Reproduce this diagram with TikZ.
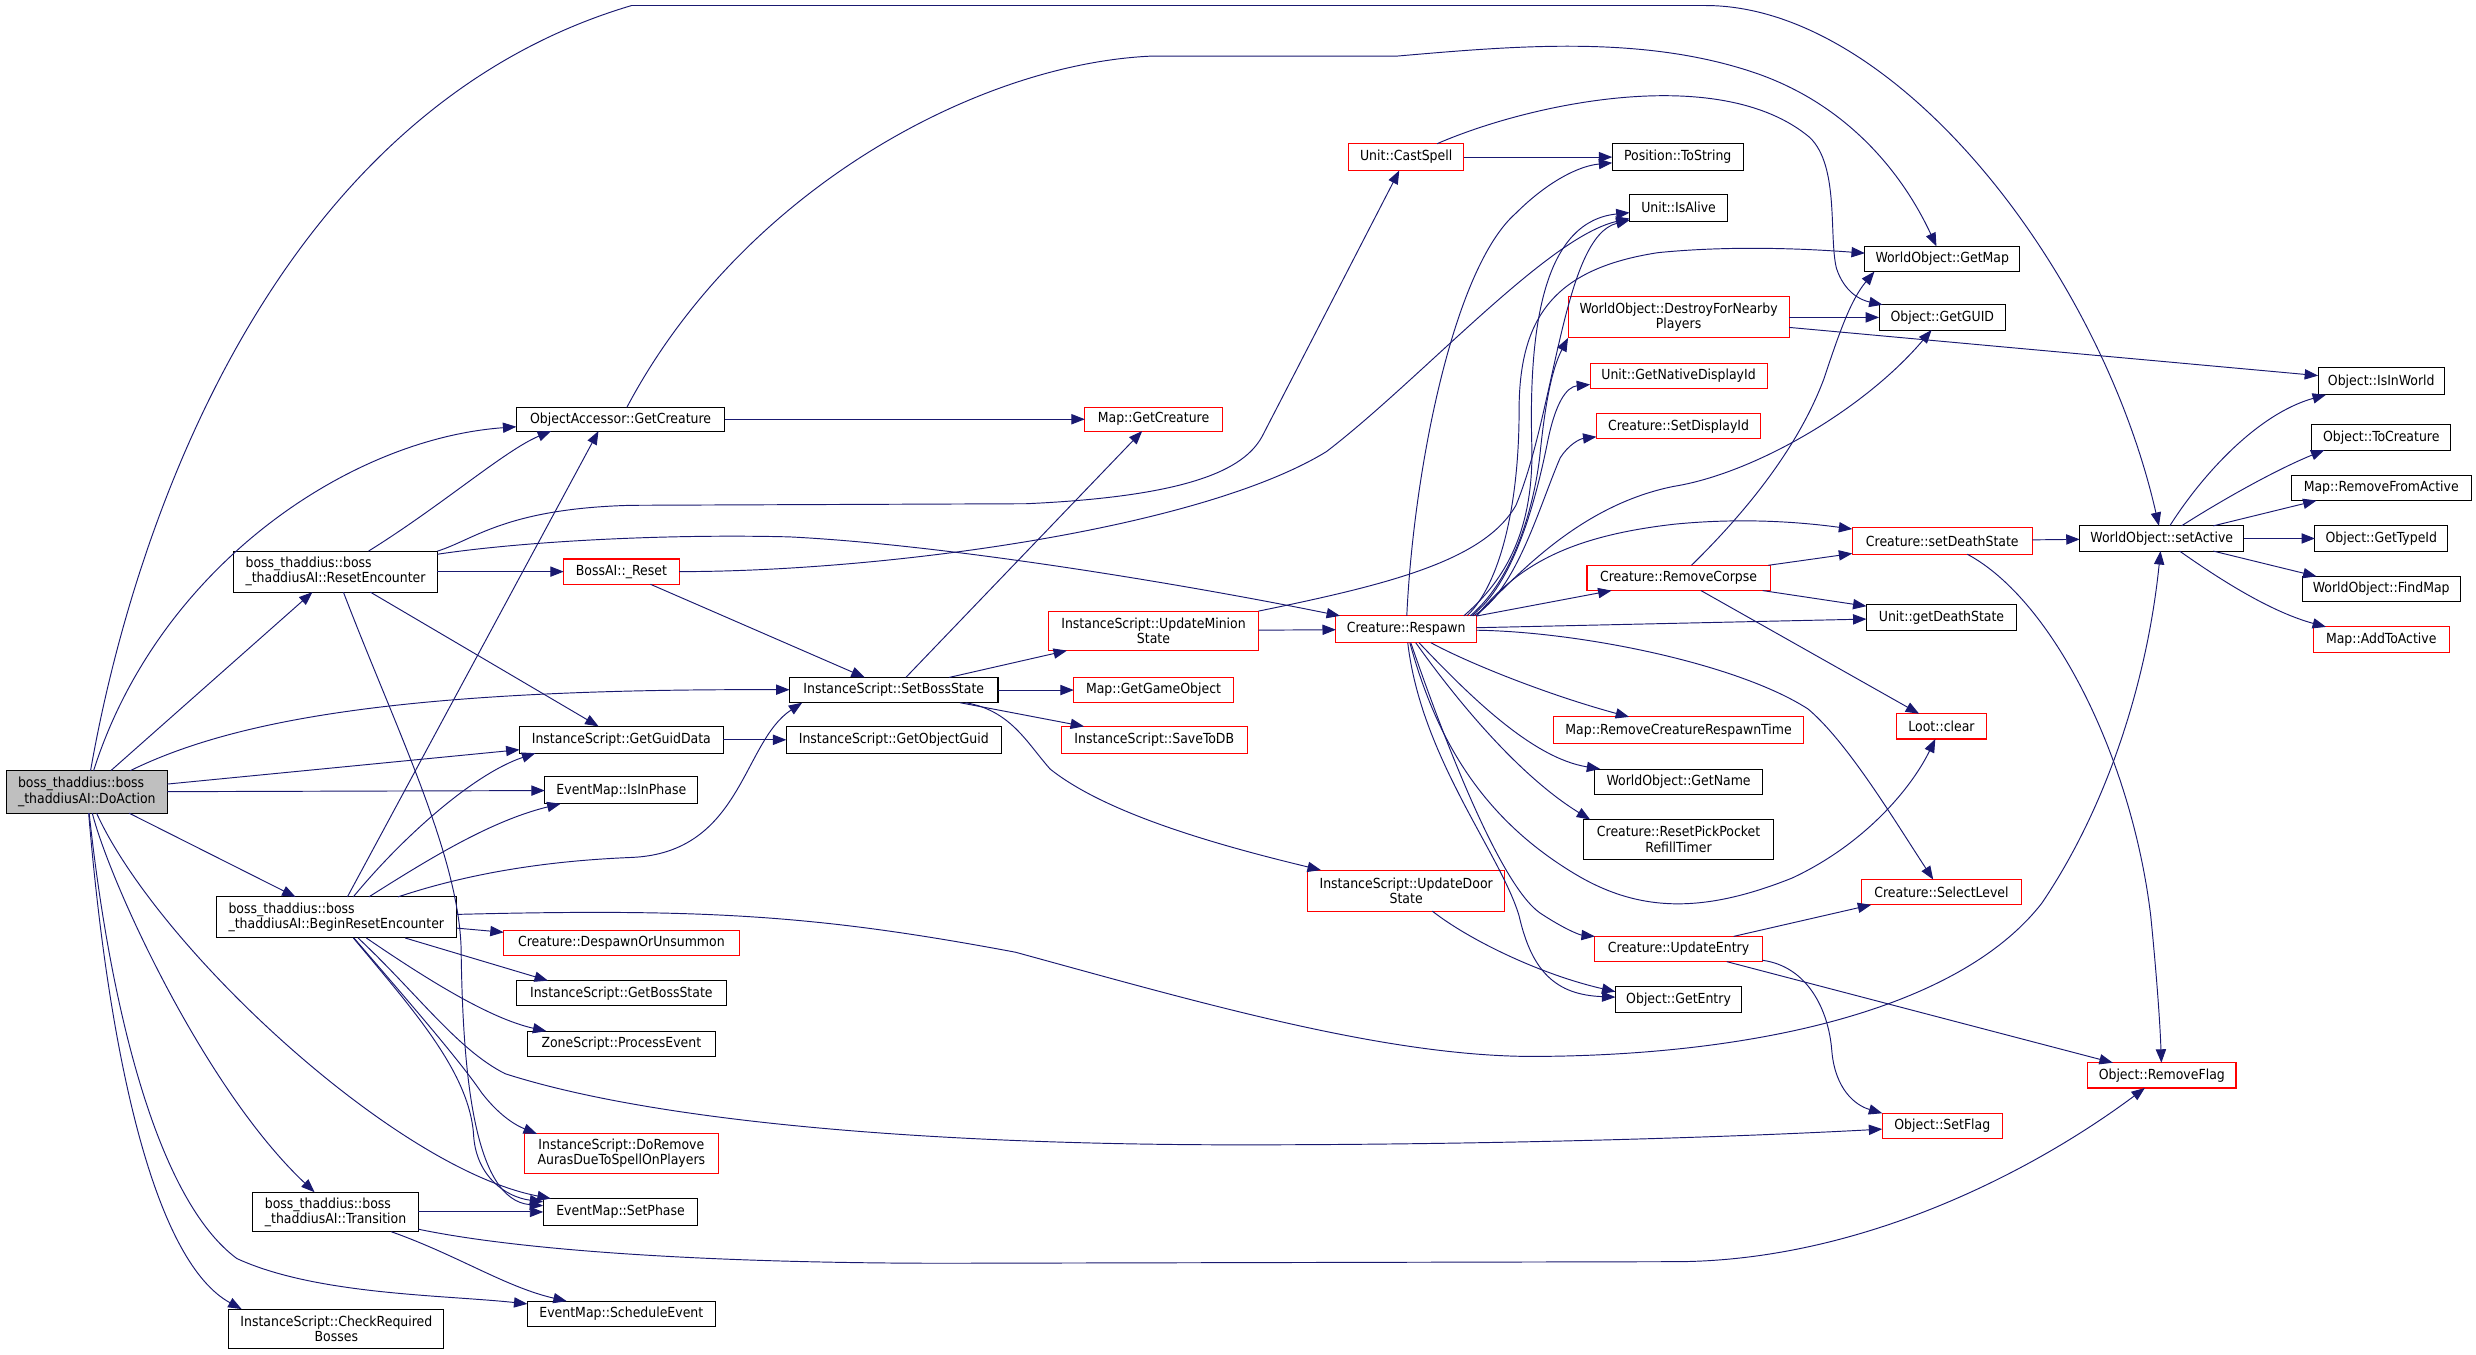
\documentclass[tikz,border=0pt]{standalone}
\usepackage{fontspec}
\setmainfont{DejaVu Sans Condensed}
\usetikzlibrary{arrows.meta}
\definecolor{edgeblue}{HTML}{191970}
\definecolor{nodegray}{HTML}{BFBFBF}
\definecolor{nodered}{HTML}{FF0000}
\newcommand\bx[7]{\node[#1, minimum width={(#5-#3)*1pt}, minimum height={(#6-#4)*1pt}] (#2) at ({(#3+#5)/2},{(#4+#6)/2}) {#7};}
\begin{document}
\begin{tikzpicture}[x=1pt,y=-1pt,
  bbox/.style={draw=black, line width=0.65pt, fill=white, inner sep=0pt, outer sep=0pt, align=center, font=\fontsize{8.8}{9.6}\selectfont},
  rbox/.style={bbox, draw=nodered},
  lbox/.style={bbox, align=left},
  gbox/.style={bbox, align=left, fill=nodegray},
  call/.style={draw=edgeblue, line width=0.6pt, -{Triangle[length=8.5pt,width=6.5pt]}}]
\fill[white] (0,0) rectangle (1568,858);
\useasboundingbox (0,0) rectangle (1568,858);

% nodes
\bx{gbox}{DA}{4}{488}{106}{515}{boss\_thaddius::boss\\\_thaddiusAI::DoAction}
\bx{lbox}{RE}{148}{349}{277}{375}{boss\_thaddius::boss\\\_thaddiusAI::ResetEncounter}
\bx{lbox}{BRE}{137}{568}{289}{594}{boss\_thaddius::boss\\\_thaddiusAI::BeginResetEncounter}
\bx{lbox}{TR}{160}{755}{265}{780}{boss\_thaddius::boss\\\_thaddiusAI::Transition}
\bx{bbox}{CRB}{145}{829}{281}{854}{InstanceScript::CheckRequired\\Bosses}
\bx{bbox}{OAGC}{327}{258}{459}{273}{ObjectAccessor::GetCreature}
\bx{rbox}{BAR}{357}{354}{430}{370}{BossAI::\_Reset}
\bx{bbox}{SBS}{500}{429}{632}{445}{InstanceScript::SetBossState}
\bx{bbox}{GGD}{329}{460}{458}{477}{InstanceScript::GetGuidData}
\bx{bbox}{GOG}{498}{460}{634}{477}{InstanceScript::GetObjectGuid}
\bx{bbox}{IIP}{345}{492}{442}{509}{EventMap::IsInPhase}
\bx{rbox}{DOU}{319}{589}{468}{605}{Creature::DespawnOrUnsummon}
\bx{bbox}{GBS}{327}{621}{460}{637}{InstanceScript::GetBossState}
\bx{bbox}{PE}{334}{653}{453}{669}{ZoneScript::ProcessEvent}
\bx{rbox}{DRA}{332}{718}{455}{743}{InstanceScript::DoRemove\\AurasDueToSpellOnPlayers}
\bx{bbox}{SP}{344}{759}{442}{776}{EventMap::SetPhase}
\bx{bbox}{SE}{334}{824}{453}{840}{EventMap::ScheduleEvent}
\bx{rbox}{CS}{854}{91}{927}{108}{Unit::CastSpell}
\bx{bbox}{TS}{1021}{91}{1104}{108}{Position::ToString}
\bx{bbox}{IA}{1032}{123}{1094}{140}{Unit::IsAlive}
\bx{bbox}{GM}{1181}{156}{1279}{172}{WorldObject::GetMap}
\bx{bbox}{GG}{1190}{193}{1270}{209}{Object::GetGUID}
\bx{rbox}{DFN}{993}{188}{1133}{214}{WorldObject::DestroyForNearby\\Players}
\bx{rbox}{GND}{1007}{230}{1119}{246}{Unit::GetNativeDisplayId}
\bx{rbox}{SDI}{1011}{262}{1115}{278}{Creature::SetDisplayId}
\bx{bbox}{IIW}{1468}{233}{1548}{250}{Object::IsInWorld}
\bx{bbox}{TC}{1464}{269}{1552}{285}{Object::ToCreature}
\bx{bbox}{RFA}{1451}{301}{1565}{317}{Map::RemoveFromActive}
\bx{bbox}{GTI}{1466}{333}{1550}{349}{Object::GetTypeId}
\bx{bbox}{FM}{1458}{365}{1558}{381}{WorldObject::FindMap}
\bx{rbox}{ATA}{1465}{397}{1551}{413}{Map::AddToActive}
\bx{bbox}{SA}{1317}{333}{1421}{349}{WorldObject::setActive}
\bx{rbox}{SDS}{1173}{334}{1287}{351}{Creature::setDeathState}
\bx{bbox}{GDS}{1182}{383}{1277}{399}{Unit::getDeathState}
\bx{rbox}{RC}{1005}{358}{1121}{374}{Creature::RemoveCorpse}
\bx{rbox}{RS}{846}{390}{935}{407}{Creature::Respawn}
\bx{rbox}{UMS}{664}{387}{797}{412}{InstanceScript::UpdateMinion\\State}
\bx{rbox}{MGO}{680}{429}{781}{445}{Map::GetGameObject}
\bx{rbox}{STD}{672}{460}{790}{477}{InstanceScript::SaveToDB}
\bx{rbox}{MGC}{687}{258}{774}{273}{Map::GetCreature}
\bx{rbox}{RCRT}{984}{454}{1142}{471}{Map::RemoveCreatureRespawnTime}
\bx{bbox}{GN}{1010}{487}{1116}{503}{WorldObject::GetName}
\bx{bbox}{RPP}{1003}{519}{1123}{544}{Creature::ResetPickPocket\\RefillTimer}
\bx{rbox}{UDS}{828}{551}{953}{577}{InstanceScript::UpdateDoor\\State}
\bx{rbox}{LC}{1201}{452}{1258}{468}{Loot::clear}
\bx{rbox}{SL}{1179}{557}{1280}{573}{Creature::SelectLevel}
\bx{rbox}{UE}{1010}{593}{1116}{609}{Creature::UpdateEntry}
\bx{bbox}{GE}{1023}{625}{1103}{641}{Object::GetEntry}
\bx{rbox}{RF}{1322}{673}{1416}{689}{Object::RemoveFlag}
\bx{rbox}{SF}{1192}{705}{1268}{721}{Object::SetFlag}

% DoAction
\draw[call] (DA) .. controls (85,330) and (175,70) .. (400,3.5) -- (1080,3.5) .. controls (1200,3.5) and (1330,170) .. (SA);
\draw[call] (DA) .. controls (100,360) and (220,278) .. (OAGC);
\draw[call] (DA) -- (RE);
\draw[call] (DA) .. controls (150,455) and (260,436) .. (SBS);
\draw[call] (DA) -- (GGD);
\draw[call] (DA) -- (IIP);
\draw[call] (DA) -- (BRE);
\draw[call] (DA) .. controls (70,560) and (130,690) .. (TR);
\draw[call] (DA) .. controls (100,600) and (250,740) .. (SP);
\draw[call] (DA) .. controls (70,640) and (100,760) .. (150,797) .. controls (200,820) and (280,820) .. (SE);
\draw[call] (DA) .. controls (70,680) and (100,800) .. ([xshift=8pt]CRB.north west);

% ResetEncounter
\draw[call] (RE) .. controls (280,320) and (320,285) .. ([xshift=22pt]OAGC.south west);
\draw[call] (RE.north east) .. controls (300,342) and (320,322) .. (400,320) -- (650,319) .. controls (760,314) and (790,295) .. (800,275) -- (CS);
\draw[call] (RE) -- (BAR);
\draw[call] ([yshift=-2pt]RE.north east) .. controls (330,343) and (420,338) .. (500,340) .. controls (600,345) and (750,370) .. (RS);
\draw[call] (RE) -- (GGD);
\draw[call] (RE) .. controls (250,460) and (290,540) .. (292,600) .. controls (293,680) and (300,760) .. (SP);

% BossAI::_Reset
\draw[call] (BAR) -- (SBS);
\draw[call] (BAR) .. controls (560,362) and (760,335) .. (840,286) .. controls (900,240) and (980,150) .. (IA);

% ObjectAccessor::GetCreature
\draw[call] (OAGC) -- (MGC);
\draw[call] (OAGC) .. controls (470,120) and (620,40) .. (730,35.5) -- (885,35.5) .. controls (960,29) and (1040,22) .. (1111,46) .. controls (1170,66) and (1205,110) .. (GM);

% SetBossState
\draw[call] (SBS) -- (MGC);
\draw[call] (SBS) -- (UMS);
\draw[call] (SBS) -- (MGO);
\draw[call] (SBS) -- (STD);
\draw[call] (SBS) .. controls (640,450) and (650,470) .. (665,487) .. controls (700,515) and (770,535) .. (UDS);
\draw[call] (GGD) -- (GOG);

% BeginResetEncounter
\draw[call] (BRE) -- ([xshift=52pt]OAGC.south west);
\draw[call] (BRE) .. controls (255,530) and (300,490) .. ([xshift=10pt]GGD.south west);
\draw[call] (BRE) .. controls (270,545) and (310,520) .. ([xshift=10pt]IIP.south west);
\draw[call] (BRE) .. controls (300,552) and (350,545) .. (400,543) .. controls (470,540) and (470,470) .. ([xshift=8pt]SBS.south west);
\draw[call] (BRE) .. controls (450,575) and (520,580) .. (643,603) .. controls (760,635) and (880,670) .. (975,669) .. controls (1110,668) and (1240,640) .. (1293,572) .. controls (1335,510) and (1360,430) .. (SA);
\draw[call] (BRE) -- (DOU);
\draw[call] (BRE) -- ([xshift=20pt]GBS.north west);
\draw[call] (BRE) .. controls (270,620) and (310,645) .. ([xshift=12pt]PE.north west);
\draw[call] (BRE) .. controls (255,630) and (290,670) .. (305,692) .. controls (315,705) and (325,712) .. ([xshift=8pt]DRA.north west);
\draw[call] (BRE) .. controls (262,640) and (298,680) .. (300,720) .. controls (302,745) and (320,758) .. (SP);
\draw[call] (BRE) .. controls (265,630) and (290,665) .. (320,680) .. controls (420,712) and (600,725) .. (785,725) .. controls (950,725) and (1100,720) .. (SF);

% Transition
\draw[call] (TR) -- (SP);
\draw[call] (TR) .. controls (290,795) and (320,815) .. (SE);
\draw[call] (TR) .. controls (330,792) and (450,800) .. (600,800) -- (1060,799) .. controls (1180,799) and (1290,740) .. (RF);

% CastSpell
\draw[call] (CS) -- (TS);
\draw[call] (CS) .. controls (970,65) and (1090,40) .. (1146,87) .. controls (1165,105) and (1158,150) .. (1163,170) .. controls (1168,185) and (1178,190) .. (GG);

% Respawn
\draw[call] (RS) .. controls (895,300) and (920,170) .. (960,135) .. controls (980,115) and (1000,105) .. (TS);
\draw[call] ([xshift=-8pt]RS.north east) .. controls (950,370) and (972,340) .. (970,280) .. controls (968,200) and (980,140) .. (IA);
\draw[call] ([xshift=-6pt]RS.north east) .. controls (950,370) and (962,320) .. (962,260) .. controls (962,200) and (985,170) .. (1050,160) .. controls (1100,155) and (1150,158) .. (GM);
\draw[call] ([xshift=-4pt]RS.north east) .. controls (955,370) and (970,330) .. (975,290) .. controls (978,260) and (982,235) .. (DFN.south west);
\draw[call] ([xshift=-3pt]RS.north east) .. controls (958,370) and (972,320) .. (980,280) .. controls (985,255) and (992,245) .. (GND);
\draw[call] ([xshift=-2pt]RS.north east) .. controls (960,375) and (975,320) .. (988,290) .. controls (993,282) and (1000,278) .. (SDI);
\draw[call] (RS.north east) .. controls (960,365) and (1000,320) .. (1060,308) .. controls (1110,300) and (1180,260) .. (GG);
\draw[call] (RS.north east) .. controls (960,360) and (990,340) .. (1060,332) .. controls (1110,327) and (1150,332) .. (SDS);
\draw[call] (RS) -- (RC);
\draw[call] (RS) -- (GDS);
\draw[call] (RS) .. controls (1000,400) and (1100,420) .. (1145,449) .. controls (1170,470) and (1200,520) .. (SL);
\draw[call] (RS) .. controls (910,470) and (940,520) .. (1000,555) .. controls (1040,578) and (1080,578) .. (1135,556) .. controls (1180,535) and (1210,500) .. (LC);
\draw[call] (RS) .. controls (930,420) and (980,440) .. (RCRT);
\draw[call] (RS) .. controls (930,440) and (970,480) .. (GN);
\draw[call] (RS) .. controls (920,440) and (960,490) .. ([xshift=4pt]RPP.north west);
\draw[call] (RS) .. controls (915,470) and (950,560) .. (975,578) .. controls (990,588) and (1000,592) .. (UE.north west);
\draw[call] (RS) .. controls (900,480) and (950,540) .. (962,580) .. controls (970,615) and (985,630) .. (GE);

% RemoveCorpse
\draw[call] (RC) .. controls (1110,320) and (1140,280) .. (1155,240) .. controls (1165,210) and (1172,190) .. ([xshift=6pt]GM.south west);
\draw[call] (RC) -- (SDS);
\draw[call] (RC) -- (GDS);
\draw[call] (RC) -- (LC);

% DestroyForNearbyPlayers
\draw[call] (DFN) -- (GG);
\draw[call] (DFN) -- (IIW);

% UpdateMinionState
\draw[call] (UMS) -- (RS);
\draw[call] (UMS.north east) .. controls (880,370) and (940,355) .. (960,320) .. controls (985,260) and (990,150) .. (IA);

% setDeathState
\draw[call] (SDS) -- (SA);
\draw[call] (SDS) .. controls (1300,380) and (1350,480) .. (1362,580) .. controls (1366,620) and (1368,650) .. (RF);

% setActive
\draw[call] (SA) .. controls (1395,300) and (1430,262) .. ([xshift=5pt]IIW.south west);
\draw[call] (SA) .. controls (1405,318) and (1440,298) .. ([xshift=8pt]TC.south west);
\draw[call] (SA) -- ([xshift=16pt]RFA.south west);
\draw[call] (SA) -- (GTI);
\draw[call] (SA) -- ([xshift=9pt]FM.north west);
\draw[call] (SA) .. controls (1410,370) and (1440,388) .. ([xshift=8pt]ATA.north west);

% UpdateEntry
\draw[call] (UE) -- ([xshift=6pt]SL.south west);
\draw[call] (UE) -- ([xshift=16pt]RF.north west);
\draw[call] (UE) .. controls (1145,612) and (1158,640) .. (1160,665) .. controls (1162,690) and (1175,700) .. (SF.north west);

% UpdateDoorState
\draw[call] (UDS) .. controls (930,595) and (975,617) .. ([yshift=-3pt]GE.north west);
\end{tikzpicture}
\end{document}
